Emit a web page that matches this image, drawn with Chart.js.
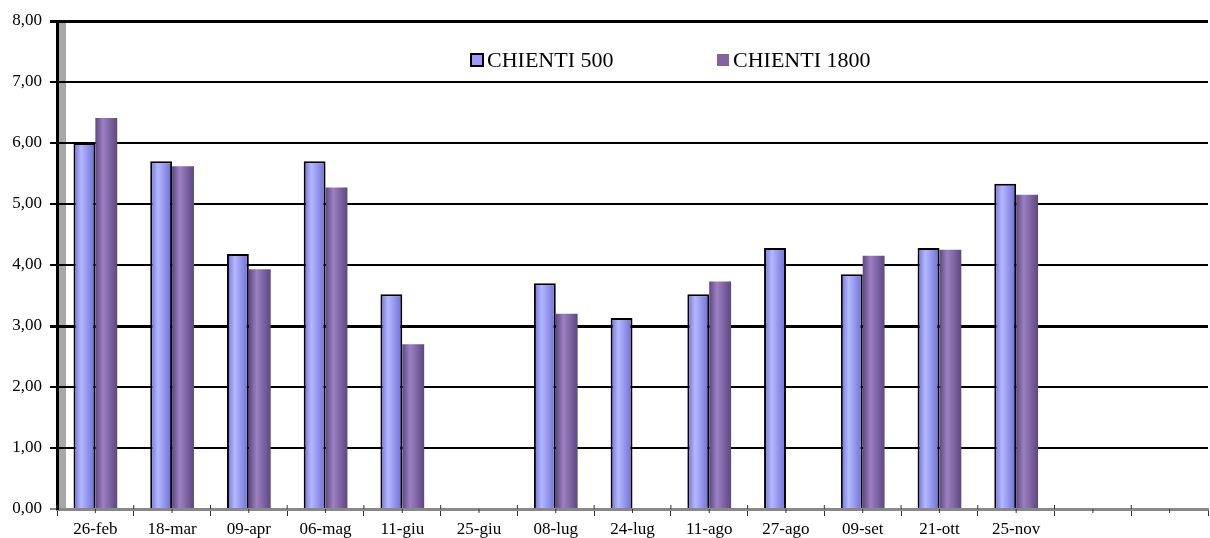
<!DOCTYPE html>
<html>
<head>
<meta charset="utf-8">
<script src="https://cdn.jsdelivr.net/npm/chart.js@4"></script>
<style>
  html, body { margin: 0; padding: 0; background: #fff; }
  #wrap { width: 1210px; height: 538px; }
</style>
</head>
<body>
<div id="wrap"><canvas id="chientiChart"></canvas></div>
<script>
const labels = ["26-feb", "18-mar", "09-apr", "06-mag", "11-giu", "25-giu", "08-lug",
    "24-lug", "11-ago", "27-ago", "09-set", "21-ott", "25-nov", "", ""];
const chienti500 = [6.00, 5.70, 4.18, 5.70, 3.52, null, 3.70, 3.13, 3.52, 4.28, 3.85, 4.28, 5.33, null, null];
const chienti1800 = [6.41, 5.62, 3.93, 5.27, 2.70, null, 3.20, null, 3.73, null, 4.15, 4.25, 5.15, null, null];
const yTicks = [0, 1, 2, 3, 4, 5, 6, 7, 8];

const CAT_PCT = 0.57;
const SERIF = "'Liberation Serif', 'Times New Roman', serif";

// cylinder-like shading across each bar
function shade(light, dark, fallback) {
    return (c) => {
        const xs = c.chart.scales.x;
        if (!xs || c.dataIndex === undefined || !isFinite(xs.width)) return fallback;
        const w = xs.width / labels.length;
        const center = xs.getPixelForValue(c.dataIndex);
        const slot = w * CAT_PCT / 2;
        const left = center - w * CAT_PCT / 2 + c.datasetIndex * slot;
        const g = c.chart.ctx.createLinearGradient(left, 0, left + slot, 0);
        g.addColorStop(0, dark);
        g.addColorStop(0.35, light);
        g.addColorStop(1, dark);
        return g;
    };
}

const wallPlugin = {
    id: "wall",
    beforeDraw(chart) {
        const a = chart.chartArea, ctx = chart.ctx;
        ctx.save();
        ctx.fillStyle = "#a8a8a8";
        ctx.fillRect(a.left + 1, a.top, 8, a.bottom - a.top);
        ctx.restore();
    }
};

// small tick marks: up at category boundaries, down at category centres
const axisTicksPlugin = {
    id: "axisTicks",
    afterDraw(chart) {
        const xs = chart.scales.x, ctx = chart.ctx, y = chart.chartArea.bottom;
        const w = xs.width / labels.length;
        ctx.save();
        ctx.strokeStyle = "#333";
        ctx.lineWidth = 1;
        ctx.beginPath();
        for (let i = 0; i < labels.length; i++) {
            const c = xs.getPixelForValue(i);
            ctx.moveTo(c, y);
            ctx.lineTo(c, y + 4);
            ctx.moveTo(c - w / 2, y - 4);
            ctx.lineTo(c - w / 2, y);
        }
        ctx.stroke();
        ctx.restore();
    }
};

const legendPlugin = {
    id: "inlineLegend",
    afterDraw(chart) {
        const ctx = chart.ctx;
        const items = [
            { x: 471, fill: "#9999ff", stroke: "#000", text: chart.data.datasets[0].label },
            { x: 717, fill: "#8064a2", stroke: null, text: chart.data.datasets[1].label }
        ];
        ctx.save();
        ctx.font = "22px " + SERIF;
        ctx.textBaseline = "middle";
        items.forEach(it => {
            ctx.fillStyle = it.fill;
            ctx.fillRect(it.x, 54, 12, 12);
            if (it.stroke) {
                ctx.strokeStyle = it.stroke;
                ctx.lineWidth = 2;
                ctx.strokeRect(it.x, 54, 12, 12);
            }
            ctx.fillStyle = "#000";
            ctx.fillText(it.text, it.x + 16, 61);
        });
        ctx.restore();
    }
};

new Chart(document.getElementById("chientiChart"), {
    type: "bar",
    data: {
        labels: labels,
        datasets: [{
            label: "CHIENTI 500",
            data: chienti500,
            backgroundColor: shade("#b4b8ff", "#6c6cd6", "#9999ff"),
            borderColor: "#000",
            borderWidth: 2,
            categoryPercentage: CAT_PCT,
            barPercentage: 1
        }, {
            label: "CHIENTI 1800",
            data: chienti1800,
            backgroundColor: shade("#9c80c2", "#5c4880", "#8064a2"),
            borderWidth: 0,
            categoryPercentage: CAT_PCT,
            barPercentage: 1
        }]
    },
    options: {
        responsive: true,
        maintainAspectRatio: false,
        animation: false,
        layout: { padding: { top: 21, right: 2, left: 0, bottom: 0 } },
        plugins: {
            legend: { display: false },
            tooltip: { enabled: false }
        },
        scales: {
            x: {
                grid: {
                    offset: true,
                    drawOnChartArea: false,
                    color: "#333",
                    tickLength: 7
                },
                border: { color: "#888", width: 3 },
                ticks: {
                    color: "#000",
                    padding: 3,
                    maxRotation: 0,
                    autoSkip: false,
                    font: { family: SERIF, size: 17 }
                },
                afterFit: s => { s.height = 29; }
            },
            y: {
                min: 0,
                max: 8,
                afterBuildTicks: s => { s.ticks = yTicks.map(v => ({ value: v })); },
                grid: {
                    color: c => c.tick && c.tick.value === 0 ? "#888" : "#000",
                    lineWidth: c => c.tick && (c.tick.value === 3 || c.tick.value === 8) ? 3 : 2,
                    tickLength: 7
                },
                border: { color: "#000", width: 3 },
                ticks: {
                    color: "#000",
                    padding: 8,
                    font: { family: SERIF, size: 17 },
                    callback: v => v.toFixed(2).replace(".", ",")
                },
                afterFit: s => { s.width = 57; }
            }
        }
    },
    plugins: [wallPlugin, axisTicksPlugin, legendPlugin]
});
</script>
</body>
</html>
